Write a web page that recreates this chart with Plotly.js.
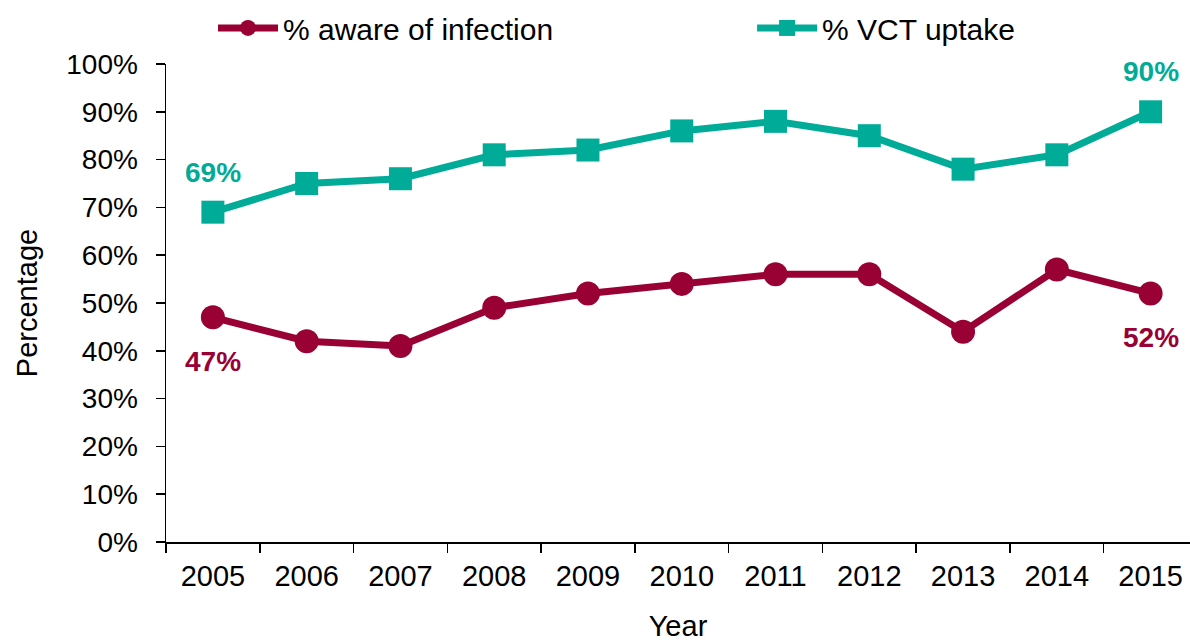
<!DOCTYPE html>
<html>
<head>
<meta charset="utf-8">
<script src="https://cdn.plot.ly/plotly-3.0.1.min.js"></script>
<style>html,body{margin:0;padding:0;background:#fff}#chart{width:1190px;height:642px}</style>
</head>
<body>
<div id="chart"></div>
<script>
const years = ['2005','2006','2007','2008','2009','2010','2011','2012','2013','2014','2015'];
const awareInfection = [47, 42, 41, 49, 52, 54, 56, 56, 44, 57, 52];
const vctUptake = [69, 75, 76, 81, 82, 86, 88, 85, 78, 81, 90];
const yTickValues = [0,10,20,30,40,50,60,70,80,90,100];
const yTickLabels = ['0%','10%','20%','30%','40%','50%','60%','70%','80%','90%','100%'];

const maroon = '#990033';
const teal = '#00ab98';
const font = 'Liberation Sans, Arial, sans-serif';

const traces = [
  {
    x: years, y: awareInfection, name: '% aware of infection',
    type: 'scatter', mode: 'lines+markers', legend: 'legend',
    line: {color: maroon, width: 7},
    marker: {color: maroon, size: 24, symbol: 'circle'},
    cliponaxis: false, hoverinfo: 'x+y'
  },
  {
    x: years, y: vctUptake, name: '% VCT uptake',
    type: 'scatter', mode: 'lines+markers', legend: 'legend2',
    line: {color: teal, width: 7},
    marker: {color: teal, size: 23, symbol: 'square'},
    cliponaxis: false, hoverinfo: 'x+y'
  }
];

function endAnnotations(vals, color, shift){
  const last = vals.length - 1;
  return [0, last].map(i => ({
    x: i, y: vals[i], xref: 'x', yref: 'y',
    text: vals[i] + '%', showarrow: false, yshift: shift,
    font: {family: font, size: 28, color: color, weight: 'bold'}
  }));
}

const legendCommon = {
  orientation: 'h', xref: 'container', yref: 'container',
  y: 0.997, xanchor: 'left', yanchor: 'top',
  font: {family: font, size: 30, color: '#000'},
  itemwidth: 60, bgcolor: 'rgba(0,0,0,0)'
};

const layout = {
  width: 1190, height: 642,
  margin: {l: 166, r: 0, t: 64, b: 100, autoexpand: false},
  paper_bgcolor: '#fff', plot_bgcolor: '#fff',
  font: {family: font, size: 28, color: '#000'},
  showlegend: true,
  legend: Object.assign({}, legendCommon, {x: 0.179}),
  legend2: Object.assign({}, legendCommon, {x: 0.632}),
  annotations: [].concat(
    endAnnotations(awareInfection, maroon, -44),
    endAnnotations(vctUptake, teal, 40)
  ),
  xaxis: {
    type: 'category', range: [-0.5, 10.42],
    tickson: 'boundaries', ticks: 'outside', ticklen: 9, tickwidth: 1.5, tickcolor: '#000',
    showline: true, linecolor: '#000', linewidth: 1.5,
    showgrid: false, zeroline: false, automargin: false,
    ticklabelstandoff: 8,
    tickfont: {family: font, size: 29, color: '#000'},
    title: {text: 'Year', font: {family: font, size: 29, color: '#000'}, standoff: 30},
    fixedrange: true
  },
  yaxis: {
    range: [0, 100], tickmode: 'array', tickvals: yTickValues, ticktext: yTickLabels,
    ticks: 'outside', ticklen: 9, tickwidth: 1.5, tickcolor: '#000',
    showline: true, linecolor: '#000', linewidth: 1.5,
    showgrid: false, zeroline: false, automargin: false,
    ticklabelstandoff: 12,
    tickfont: {family: font, size: 28, color: '#000'},
    title: {text: 'Percentage', font: {family: font, size: 29, color: '#000'}, standoff: 20},
    fixedrange: true
  }
};

Plotly.newPlot('chart', traces, layout, {displayModeBar: false, staticPlot: true});
</script>
</body>
</html>
